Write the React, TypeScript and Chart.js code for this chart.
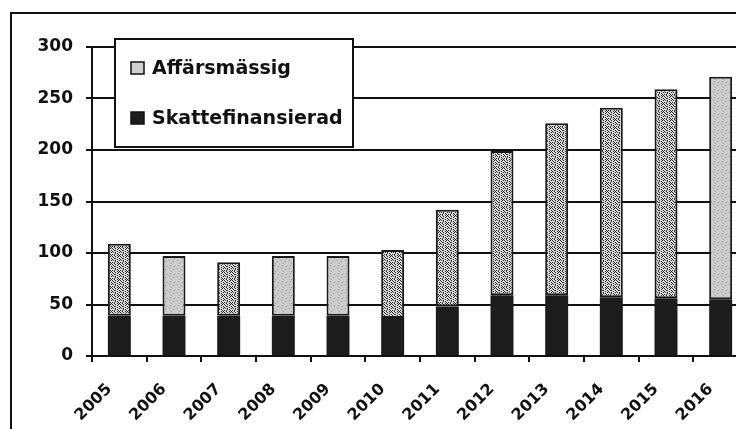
import React, { useEffect, useRef } from "react";
import { Chart, registerables } from "chart.js";

Chart.register(...registerables);

const years = ["2005", "2006", "2007", "2008", "2009", "2010", "2011", "2012", "2013", "2014", "2015", "2016"];
const skattefinansierad = [39, 39, 39, 39, 39, 37, 48, 59, 59, 57, 56, 55];
const affarsmassig = [70, 58, 52, 58, 58, 66, 94, 140, 167, 184, 203, 216];
const denseSpeckle = [true, false, true, false, false, true, true, true, true, true, true, false];
const yTicks = [0, 50, 100, 150, 200, 250, 300];

const FONT = "'DejaVu Sans', sans-serif";

function makePattern(dense: boolean): CanvasPattern | string {
  const c = document.createElement("canvas");
  const tile = dense
    ? ["#..#..#.", ".#...#..", "..##...#", "#....#..", ".#.#...#", "...#.#..", "#.#...#.", "..#..#.#"]
    : ["........", "..#.....", "......#.", "........", ".#......", ".....#..", "........", "...#...."];
  c.width = 8;
  c.height = 8;
  const g = c.getContext("2d");
  if (!g) return "#c8c8c8";
  g.fillStyle = dense ? "#d4d4d4" : "#cbcbcb";
  g.fillRect(0, 0, 8, 8);
  g.fillStyle = dense ? "#333333" : "#9a9a9a";
  tile.forEach((row, y) => {
    for (let x = 0; x < row.length; x++) if (row[x] === "#") g.fillRect(x, y, 1, 1);
  });
  return g.createPattern(c, "repeat") || "#c8c8c8";
}

export default function App() {
  const ref = useRef<HTMLCanvasElement | null>(null);

  useEffect(() => {
    if (!ref.current) return;
    const dense = makePattern(true);
    const light = makePattern(false);

    const framePlugin = {
      id: "frame",
      beforeDraw(chart: any) {
        const ctx = chart.ctx;
        ctx.save();
        ctx.fillStyle = "#ffffff";
        ctx.fillRect(0, 0, chart.width, chart.height);
        ctx.strokeStyle = "#111";
        ctx.lineWidth = 2;
        ctx.strokeRect(11, 13, chart.width + 50, chart.height + 50);
        ctx.restore();
      },
    };

    const legendPlugin = {
      id: "boxLegend",
      afterDraw(chart: any) {
        const ctx = chart.ctx;
        const a = chart.chartArea;
        const bx = a.left + 23;
        const by = a.top - 8;
        const bw = 238;
        const bh = 108;
        ctx.save();
        ctx.fillStyle = "#fff";
        ctx.fillRect(bx, by, bw, bh);
        ctx.strokeStyle = "#111";
        ctx.lineWidth = 2;
        ctx.strokeRect(bx, by, bw, bh);
        const items = [chart.data.datasets[1], chart.data.datasets[0]];
        const centers = [by + 29, by + 79];
        items.forEach((ds: any, i: number) => {
          const cy = centers[i];
          ctx.fillStyle = ds.legendColor;
          ctx.fillRect(bx + 16, cy - 6, 13, 12);
          ctx.strokeStyle = "#111";
          ctx.lineWidth = 1.5;
          ctx.strokeRect(bx + 16, cy - 6, 13, 12);
          ctx.fillStyle = "#111";
          ctx.font = `bold 19px ${FONT}`;
          ctx.textBaseline = "middle";
          ctx.textAlign = "left";
          ctx.fillText(ds.label, bx + 37, cy + 1);
        });
        ctx.restore();
      },
    };

    const chart = new Chart(ref.current, {
      type: "bar",
      data: {
        labels: years,
        datasets: [
          {
            label: "Skattefinansierad",
            data: skattefinansierad,
            backgroundColor: "#1c1c1c",
            borderWidth: 0,
            barPercentage: 0.42,
            categoryPercentage: 1,
            legendColor: "#1c1c1c",
          } as any,
          {
            label: "Affärsmässig",
            data: affarsmassig,
            backgroundColor: denseSpeckle.map((d) => (d ? dense : light)),
            borderColor: "#1a1a1a",
            borderWidth: 2,
            borderSkipped: false,
            barPercentage: 0.42,
            categoryPercentage: 1,
            legendColor: "#d0d0d0",
          } as any,
        ],
      },
      options: {
        responsive: false,
        animation: false,
        layout: { padding: { top: 47, right: 12, left: 0, bottom: 0 } },
        plugins: { legend: { display: false }, tooltip: { enabled: false } },
        scales: {
          x: {
            stacked: true,
            offset: true,
            grid: { display: true, drawOnChartArea: false, drawTicks: true, tickLength: 6, color: "#111", lineWidth: 2 },
            border: { display: true, color: "#111", width: 2 },
            ticks: {
              autoSkip: false,
              minRotation: 45,
              maxRotation: 45,
              padding: 18,
              labelOffset: -10,
              color: "#111",
              font: { family: FONT, weight: "bold", size: 16 },
            },
            afterFit(scale: any) {
              scale.height = 73;
            },
          },
          y: {
            stacked: true,
            min: 0,
            max: 300,
            afterBuildTicks(scale: any) {
              scale.ticks = yTicks.map((v) => ({ value: v }));
            },
            grid: { color: "#111", lineWidth: 2, tickLength: 6, drawTicks: true },
            border: { display: true, color: "#111", width: 2 },
            ticks: {
              padding: 13,
              color: "#111",
              font: { family: FONT, weight: "bold", size: 17 },
            },
            afterFit(scale: any) {
              scale.width = 92;
            },
          },
        },
      },
      plugins: [framePlugin, legendPlugin],
    });
    return () => chart.destroy();
  }, []);

  return (
    <div style={{ position: "fixed", left: 0, top: 0, width: 736, height: 429, overflow: "hidden", background: "#fff" }}>
      <canvas ref={ref} width={760} height={429} style={{ width: 760, height: 429, display: "block" }} />
    </div>
  );
}
